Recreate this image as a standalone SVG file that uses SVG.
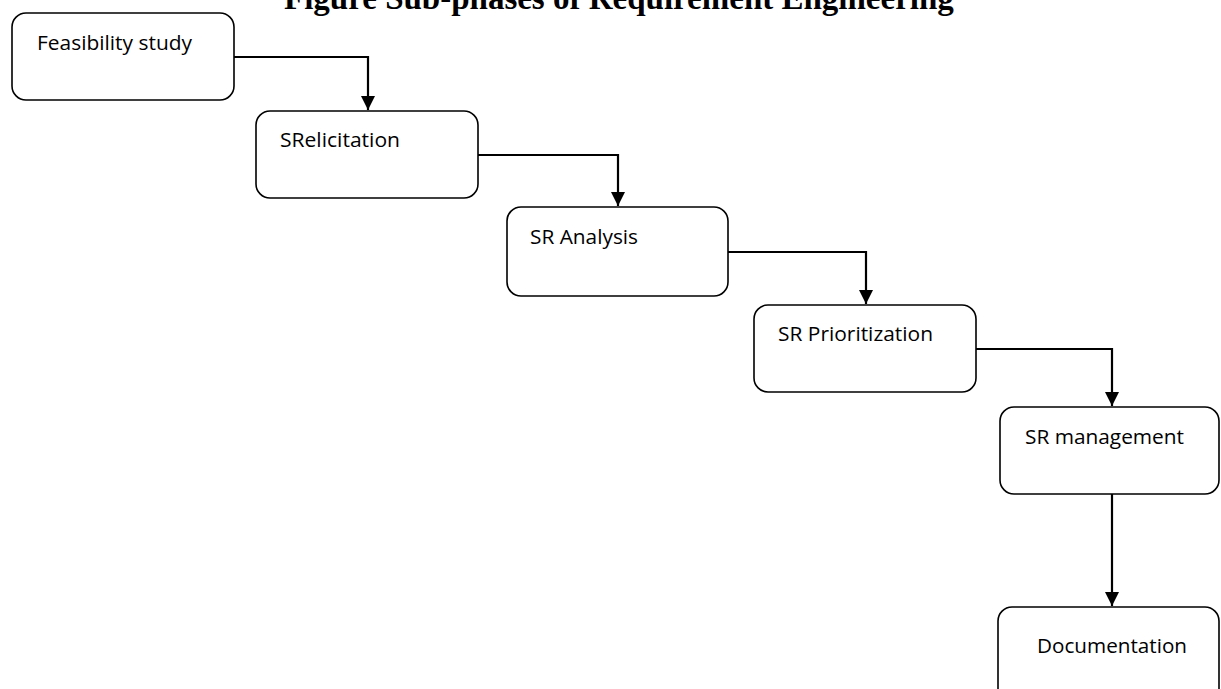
<svg xmlns="http://www.w3.org/2000/svg" width="1221" height="689" viewBox="0 0 1221 689">
<style>
.box{fill:#fff;stroke:#000;stroke-width:1.6}
.lbl{font-family:"Open Sans","Liberation Sans",sans-serif;font-size:20px;fill:#000}
.title{font-family:"Liberation Serif",serif;font-weight:bold;font-size:33px;fill:#000}
.con{fill:none;stroke:#000;stroke-width:2.2}
</style>
<defs>
<marker id="arr" markerWidth="14" markerHeight="14" refX="14" refY="7" orient="auto" markerUnits="userSpaceOnUse" viewBox="0 0 14 14">
<path d="M0,0 L14,7 L0,14 Z" fill="#000"/>
</marker>
</defs>
<rect width="1221" height="689" fill="#fff"/>
<text class="title" x="284" y="9">Figure Sub-phases of Requirement Engineering</text>
<g id="connectors">
<path class="con" d="M234,57 H368 V110" marker-end="url(#arr)"/>
<path class="con" d="M478,155 H618 V206" marker-end="url(#arr)"/>
<path class="con" d="M728,252 H866 V304" marker-end="url(#arr)"/>
<path class="con" d="M976,349 H1112 V406" marker-end="url(#arr)"/>
<path class="con" d="M1112,494 V606" marker-end="url(#arr)"/>
</g>
<g id="n1"><rect class="box" x="12" y="13" width="222" height="87" rx="14"/><text class="lbl" x="37" y="50" textLength="155" lengthAdjust="spacingAndGlyphs">Feasibility study</text></g>
<g id="n2"><rect class="box" x="256" y="111" width="222" height="87" rx="14"/><text class="lbl" x="280" y="147" textLength="120" lengthAdjust="spacingAndGlyphs">SRelicitation</text></g>
<g id="n3"><rect class="box" x="507" y="207" width="221" height="89" rx="14"/><text class="lbl" x="530" y="244" textLength="108" lengthAdjust="spacingAndGlyphs">SR Analysis</text></g>
<g id="n4"><rect class="box" x="754" y="305" width="222" height="87" rx="14"/><text class="lbl" x="778" y="341" textLength="155" lengthAdjust="spacingAndGlyphs">SR Prioritization</text></g>
<g id="n5"><rect class="box" x="1000" y="407" width="219" height="87" rx="14"/><text class="lbl" x="1025" y="444" textLength="159" lengthAdjust="spacingAndGlyphs">SR management</text></g>
<g id="n6"><rect class="box" x="998" y="607" width="221" height="110" rx="14"/><text class="lbl" x="1037" y="653" textLength="150" lengthAdjust="spacingAndGlyphs">Documentation</text></g>
</svg>
